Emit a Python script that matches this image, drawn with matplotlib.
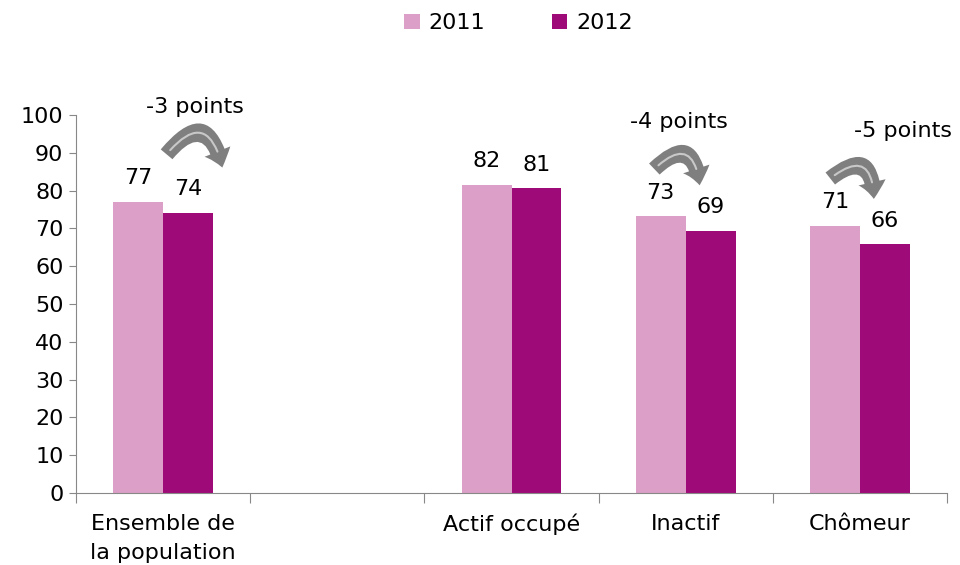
import numpy as np
import matplotlib.pyplot as plt
from matplotlib.patches import FancyArrowPatch

# data
categories = ["Ensemble de\nla population", "", "Actif occupé", "Inactif", "Chômeur"]
vals_2011 = [77.1, np.nan, 81.6, 73.2, 70.7]
vals_2012 = [74.1, np.nan, 80.6, 69.4, 65.8]
labels_2011 = ["77", "", "82", "73", "71"]
labels_2012 = ["74", "", "81", "69", "66"]
change_idx = [0, 3, 4]
change_text = ["-3 points", "-4 points", "-5 points"]

c11 = "#DCA0C8"
c12 = "#9E0A78"
plt.rcParams['font.family'] = ['DejaVu Sans']
fs = 16

fig = plt.figure(figsize=(9.6, 5.65), dpi=100)
ax = fig.add_axes([76/960, 1-493/565, (947-76)/960, (493-115)/565])

x = np.arange(len(categories))
w = 0.287
ax.bar(x - w/2, vals_2011, w, color=c11, label="2011")
ax.bar(x + w/2, vals_2012, w, color=c12, label="2012")

for i in range(len(categories)):
    if labels_2011[i]:
        ax.text(x[i] - w/2, vals_2011[i] + 3.6, labels_2011[i], ha='center', va='bottom', fontsize=fs)
        ax.text(x[i] + w/2, vals_2012[i] + 3.6, labels_2012[i], ha='center', va='bottom', fontsize=fs)

# curved arrows + change labels
arrow_dx = {0: (0.02, 0.34, 0.18), 3: (-0.18, 0.08, -0.04), 4: (-0.17, 0.08, 0.25)}
for k, i in enumerate(change_idx):
    x0, x1, xt = arrow_dx[i]
    p0 = (x[i] + x0, vals_2011[i] + 12.5)
    p1 = (x[i] + x1, vals_2012[i] + 12)
    body = FancyArrowPatch(p0, p1, connectionstyle="arc3,rad=-1.0",
                           arrowstyle="simple,head_width=20,head_length=12,tail_width=11",
                           color="#7f7f7f", lw=0, mutation_scale=1, shrinkA=0, shrinkB=0)
    ax.add_patch(body)
    shine = FancyArrowPatch(p0, p1, connectionstyle="arc3,rad=-1.0", arrowstyle="-",
                            color="#c8c8c8", lw=1.5, shrinkA=4, shrinkB=12)
    ax.add_patch(shine)
    ax.text(x[i] + xt, vals_2011[i] + 25, change_text[k], ha='center', va='center', fontsize=fs)

ax.set_xlim(-0.5, len(categories) - 0.5)
ax.set_ylim(0, 100)
ax.set_yticks(range(0, 101, 10))
ax.tick_params(axis='y', labelsize=fs, length=5, color="#888888", pad=4)
ax.set_xticks(np.arange(-0.5, len(categories), 1.0))
ax.set_xticklabels([])
ax.tick_params(axis='x', which='major', length=7, color="#888888")
ax.set_xticks(x, minor=True)
ax.set_xticklabels(categories, minor=True, fontsize=fs, linespacing=1.55)
ax.tick_params(axis='x', which='minor', length=0, pad=15)

for s in ['top', 'right']:
    ax.spines[s].set_visible(False)
for s in ['left', 'bottom']:
    ax.spines[s].set_color("#888888")

fig.legend(loc='upper center', bbox_to_anchor=(0.54, 1.012), ncol=2, frameon=False,
           fontsize=fs, handlelength=0.7, handleheight=0.7, handletextpad=0.4, columnspacing=3)

fig.savefig("out.png", dpi=100)
